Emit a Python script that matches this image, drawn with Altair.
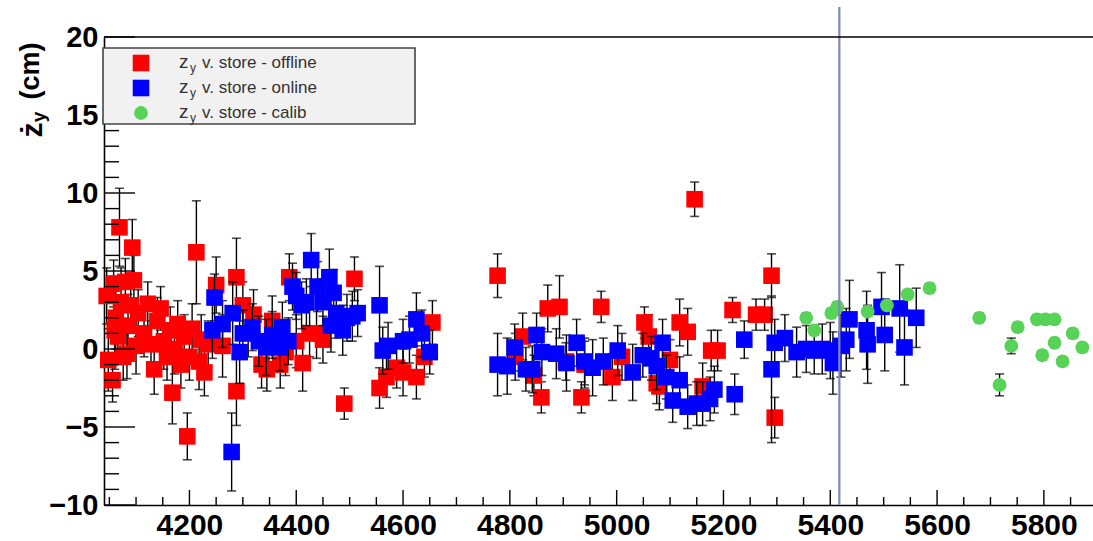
import altair as alt
import pandas as pd

# ---------------- data ----------------
# offline (red squares): store number, z_y (cm), error
off_x = [4045, 4048, 4056, 4069, 4093, 4058, 4062, 4066, 4072, 4076, 4080, 4085, 4090, 4096, 4100, 4104, 4083, 4060,
         4115, 4122, 4128, 4134, 4140, 4146, 4152, 4158, 4164, 4168, 4172, 4178, 4184, 4190, 4196, 4200, 4205, 4213,
         4218, 4222, 4228, 4235, 4250, 4262,
         4288, 4288, 4300, 4310, 4320, 4335, 4345, 4355, 4370, 4380, 4387, 4400, 4412, 4425, 4438, 4450, 4490, 4509,
         4556, 4569, 4588, 4625, 4655, 4640, 4600,
         4777, 4810, 4824, 4845, 4859, 4871, 4893, 4905, 4934, 4940, 4971, 4992, 5010, 5052, 5075, 5060,
         5080, 5118, 5133, 5146, 5161, 5177, 5189, 5217, 5261, 5277, 5290, 5296, 5100]
off_y = [3.4, -0.7, -2.0, 7.8, 6.5, 4.2, 2.0, 0.8, 3.0, -0.5, 4.3, 1.5, 2.8, 4.4, 0.2, 2.3, -0.3, 1.2,
         1.0, 2.9, 0.3, -1.3, 1.8, 2.6, 0.5, -0.5, 1.2, -2.8, 0.0, 1.6, -1.0, 0.8, -5.6, -0.5, 1.3, 6.2,
         -0.8, 0.6, -1.5, 0.3, 4.1, 0.2,
         4.6, -2.7, 2.8, 1.0, 2.2, -1.0, -1.3, 1.8, -1.0, -0.2, 4.6, 0.5, -0.9, 1.0, 1.0, 0.6, -3.5, 4.5,
         -2.5, -1.8, -1.2, -1.8, 1.7, -0.5, -1.5,
         4.7, -0.5, 0.8, -1.7, -3.1, 2.6, 2.7, -0.8, -3.1, -1.0, 2.7, -1.8, -0.5, 1.7, -2.2, 0.8,
         -2.4, 1.7, 1.1, 9.6, -2.4, -0.1, -0.1, 2.5, 2.2, 2.2, 4.7, -4.4, -0.7]
off_e = [1.8, 2.0, 1.4, 2.5, 1.8, 1.5, 2.0, 1.8, 2.2, 1.5, 1.5, 2.0, 1.8, 1.6, 1.8, 1.5, 1.6, 2.5,
         1.5, 1.4, 1.5, 1.6, 1.5, 1.4, 1.8, 1.5, 1.5, 2.0, 1.6, 1.5, 1.5, 1.4, 1.5, 1.5, 1.6, 3.3,
         1.8, 1.6, 1.5, 1.5, 1.8, 2.0,
         2.5, 2.2, 1.5, 1.5, 1.6, 1.5, 1.4, 1.6, 1.5, 1.5, 1.5, 1.7, 1.8, 1.5, 1.6, 1.5, 1.0, 1.4,
         1.3, 1.3, 1.3, 1.4, 1.4, 1.3, 1.5,
         1.4, 1.5, 1.5, 1.3, 1.0, 1.5, 2.0, 1.2, 1.0, 1.5, 1.0, 1.5, 1.5, 1.0, 1.3, 1.4,
         1.5, 1.5, 1.5, 1.1, 1.5, 1.3, 1.3, 0.8, 1.0, 1.0, 1.4, 1.3, 1.3]

# online (blue squares)
on_x = [4247, 4243, 4262, 4281, 4294, 4279, 4318, 4300, 4330, 4344, 4355, 4369, 4374, 4385, 4393, 4400, 4410, 4419,
        4428, 4440, 4450, 4462, 4470, 4475, 4487, 4495, 4505, 4515, 4465, 4556, 4562, 4572, 4600, 4612, 4625, 4635,
        4650,
        4777, 4795, 4809, 4830, 4842, 4850, 4860, 4887, 4906, 4925, 4940, 4955, 4975, 5002, 5030, 5049, 5065,
        5075, 5086, 5093, 5105, 5118, 5133, 5150, 5161, 5175, 5183, 5221, 5239, 5290, 5296, 5315, 5337, 5355, 5370,
        5385, 5400, 5405, 5430, 5436, 5468, 5470, 5496, 5502, 5530, 5539, 5561, 5420]
on_y = [3.3, 1.2, 1.6, 2.3, -0.2, -6.6, 1.4, 1.0, 0.5, 0.1, 0.9, 0.1, 1.4, 0.5, 4.0, 3.4, 2.8, 3.0,
        5.7, 4.0, 3.0, 4.6, 3.6, 2.3, 1.2, 2.0, 2.1, 2.3, 1.5, 2.8, -0.1, 0.2, 0.5, 0.6, 1.9, 1.0,
        -0.2,
        -1.0, -1.1, 0.1, -1.3, -1.3, 0.9, -0.2, -0.3, -0.9, 0.4, -0.8, -1.2, -0.8, -0.1, -1.5, -0.4, -0.6,
        -1.1, 0.4, -1.8, -3.3, -2.0, -3.7, -3.5, -3.5, -3.2, -2.6, -2.9, 0.6, -1.3, 0.4, 0.7, -0.2, 0.0, -0.1,
        0.0, -0.1, -0.9, 0.6, 1.9, 1.2, 0.3, 2.7, 0.9, 2.6, 0.1, 2.0, 0.2]
on_e = [1.5, 1.8, 1.5, 2.0, 2.0, 2.5, 1.5, 1.5, 1.6, 1.8, 1.5, 1.5, 1.6, 1.5, 1.5, 1.5, 1.5, 1.5,
        1.7, 1.6, 1.5, 1.8, 1.5, 1.6, 1.6, 1.5, 1.6, 1.5, 1.7, 2.5, 1.5, 1.5, 1.4, 1.5, 1.7, 1.5,
        1.4,
        2.0, 1.8, 1.5, 1.4, 1.5, 1.4, 1.5, 1.6, 1.8, 1.5, 1.5, 1.8, 1.5, 1.6, 1.8, 1.4, 1.4,
        1.5, 1.5, 1.4, 1.4, 1.5, 1.4, 1.4, 1.4, 1.4, 1.5, 1.3, 1.2, 4.7, 1.5, 1.5, 1.6, 1.5, 1.5,
        1.6, 1.8, 2.0, 2.0, 2.5, 2.5, 2.5, 2.2, 2.3, 2.8, 2.4, 1.9, 2.0]

# calib (green circles)
cal_x = [5355, 5370, 5402, 5413, 5470, 5506, 5545, 5586, 5679, 5717, 5739, 5751, 5787, 5803, 5820, 5797, 5820,
         5835, 5854, 5872]
cal_y = [2.0, 1.2, 2.3, 2.7, 2.4, 2.8, 3.5, 3.9, 2.0, -2.3, 0.2, 1.4, 1.9, 1.9, 1.9, -0.4, 0.4, -0.8, 1.0, 0.1]
cal_e = [0.3, 0.3, 0.3, 0.3, 0.3, 0.3, 0.3, 0.3, 0.3, 0.7, 0.5, 0.3, 0.3, 0.3, 0.3, 0.3, 0.3, 0.3, 0.3, 0.3]

series_names = ["offline", "online", "calib"]
series_colors = ["#ff0000", "#0000ff", "#57d357"]
series_shapes = ["square", "square", "circle"]
series_sizes = [275, 275, 190]

x_ticks_major = [4200, 4400, 4600, 4800, 5000, 5200, 5400, 5600, 5800]
x_ticks_minor = [v for v in range(4050, 5900, 50) if v % 200 != 0]
y_ticks_major = [-10, -5, 0, 5, 10, 15, 20]
y_ticks_minor = [v for v in range(-9, 20) if v % 5 != 0]
marker_line_x = 5417

W, H = 989, 468
FONT = "Liberation Sans"

xs = alt.Scale(domain=[4040, 5892], nice=False, zero=False)
ys = alt.Scale(domain=[-10, 20], nice=False, zero=False)
XAX = alt.Axis(values=x_ticks_major, title=None, ticks=False, grid=False,
               labelFont=FONT, labelFontSize=30, labelFontWeight="bold",
               labelColor="black", labelPadding=5, domainColor="black",
               domainWidth=1.6, format="d", labelFlush=False)
YAX = alt.Axis(values=y_ticks_major, title=None, ticks=False, grid=False,
               labelFont=FONT, labelFontSize=29, labelFontWeight="bold",
               labelColor="black", labelPadding=6, domainColor="black",
               domainWidth=1.6, format="d", labelFlush=False)


def X(f):
    return alt.X(f, scale=xs, axis=XAX)


def Y(f):
    return alt.Y(f, scale=ys, axis=YAX)


def frame(xv, yv, ev):
    d = pd.DataFrame({"x": xv, "y": yv, "e": ev})
    d["lo"] = d["y"] - d["e"]
    d["hi"] = d["y"] + d["e"]
    return d


def series_layers(df, color, shape, size):
    base = alt.Chart(df)
    out = [base.mark_rule(color="black", strokeWidth=1.4).encode(x=X("x:Q"), y=Y("lo:Q"), y2="hi:Q")]
    for col in ["lo", "hi"]:
        out.append(base.mark_tick(color="black", orient="horizontal", size=9, thickness=1.6).encode(
            x=X("x:Q"), y=Y(f"{col}:Q")))
    out.append(base.mark_point(shape=shape, filled=True, color=color, size=size, opacity=1,
                               strokeWidth=0).encode(x=X("x:Q"), y=Y("y:Q")))
    return out


dfs = [frame(off_x, off_y, off_e), frame(on_x, on_y, on_e), frame(cal_x, cal_y, cal_e)]

layers = []
for i, d in enumerate(dfs):
    layers += series_layers(d, series_colors[i], series_shapes[i], series_sizes[i])

# vertical marker line
layers.append(alt.Chart(pd.DataFrame({"x": [marker_line_x]})).mark_rule(color="#8088b4", strokeWidth=2.2).encode(
    x=X("x:Q"), y=alt.value(-30), y2=alt.value(H)))


# inside ticks
def xtick_layer(vals, length):
    return alt.Chart(pd.DataFrame({"x": vals})).mark_rule(color="black", strokeWidth=1.4).encode(
        x=X("x:Q"), y=alt.value(H), y2=alt.value(H - length))


def ytick_layer(vals, length):
    return alt.Chart(pd.DataFrame({"y": vals})).mark_rule(color="black", strokeWidth=1.4).encode(
        y=Y("y:Q"), x=alt.value(0), x2=alt.value(length))


layers += [xtick_layer(x_ticks_major, 15), xtick_layer(x_ticks_minor, 8),
           ytick_layer(y_ticks_major, 31), ytick_layer(y_ticks_minor, 15)]

# top frame line
layers.append(alt.Chart(pd.DataFrame({"y": [20]})).mark_rule(color="black", strokeWidth=1.6).encode(
    y=Y("y:Q"), x=alt.value(0), x2=alt.value(W)))

# legend box
layers.append(alt.Chart(pd.DataFrame({"a": [0]})).mark_rect(fill="#f1f1f1", stroke="#444444",
                                                             strokeWidth=1.6).encode(
    x=alt.value(-1), x2=alt.value(311), y=alt.value(11), y2=alt.value(87)))
for i, name in enumerate(series_names):
    row = pd.DataFrame({"label": ["v. store - " + name], "zs": ["z"], "ys": ["y"]})
    ypix = 26 + 25 * i
    c = alt.Chart(row)
    layers.append(c.mark_point(shape=series_shapes[i], filled=True, color=series_colors[i],
                               size=series_sizes[i], opacity=1, strokeWidth=0).encode(
        x=alt.value(37), y=alt.value(ypix)))
    layers.append(c.mark_text(font=FONT, fontSize=19, color="#333333", align="left", baseline="middle").encode(
        x=alt.value(75), y=alt.value(ypix - 1), text="zs:N"))
    layers.append(c.mark_text(font=FONT, fontSize=12, color="#333333", align="left", baseline="middle").encode(
        x=alt.value(86), y=alt.value(ypix + 5), text="ys:N"))
    layers.append(c.mark_text(font=FONT, fontSize=17, color="#333333", align="left", baseline="middle").encode(
        x=alt.value(98), y=alt.value(ypix), text="label:N"))

# y axis title (rotated): ż_y (cm)
title_text = ["ż", "y", "(cm)"]
title_pos = [(-71, 93), (-65, 80), (-73, 34)]
title_size = [30, 19, 27]
for t, (px, py), fs in zip(title_text, title_pos, title_size):
    layers.append(alt.Chart(pd.DataFrame({"t": [t]})).mark_text(
        font=FONT, fontSize=fs, fontWeight="bold", color="black", angle=270,
        align="center", baseline="middle").encode(x=alt.value(px), y=alt.value(py), text="t:N"))

chart = alt.layer(*layers).properties(
    width=W, height=H,
    autosize=alt.AutoSizeParams(type="none"),
    padding={"left": 104, "top": 37, "right": 0, "bottom": 36},
    background="white",
).configure_view(stroke=None)

chart.save("out.html", embed_options={"renderer": "svg", "actions": False})
